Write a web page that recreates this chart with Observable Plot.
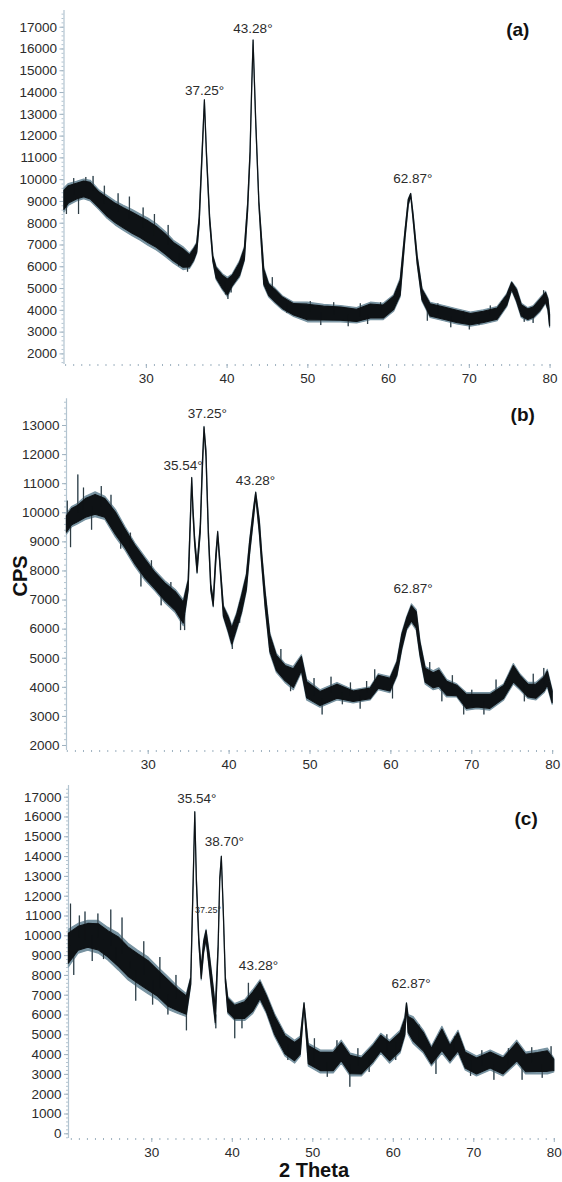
<!DOCTYPE html>
<html>
<head>
<meta charset="utf-8">
<script src="https://cdn.jsdelivr.net/npm/d3@7"></script>
<script src="https://cdn.jsdelivr.net/npm/@observablehq/plot@0.6"></script>
<style>
  body { margin: 0; background: #fff; }
  #wrap { position: relative; width: 562px; height: 1182px; overflow: hidden;
          font-family: "Liberation Sans", Arial, sans-serif; }
  .panel { position: absolute; left: 0; }
  .axlab { position: absolute; font-weight: bold; font-size: 20px; line-height: 1; color: #111; white-space: nowrap;
           transform: translate(-50%, -50%); }
</style>
</head>
<body>
<div id="wrap">
  <div class="panel" id="pa" style="top:0px"></div>
  <div class="panel" id="pb" style="top:392px"></div>
  <div class="panel" id="pc" style="top:782px"></div>
  <div class="axlab" style="left:20px; top:576px; transform: translate(-50%,-50%) rotate(-90deg);">CPS</div>
  <div class="axlab" style="left:314px; top:1170px;">2 Theta</div>
</div>
<script>
// ---------- Panel (a) ----------
const aTheta = [19.85,20.4,21.4,22.3,23.1,24.2,25.2,26.2,27.2,28.3,29.3,30.3,31.3,32.4,33.4,34.6,35.4,35.9,36.3,36.6,36.96,37.25,37.5,37.9,38.3,38.7,39.5,40.1,40.7,41.6,42.2,42.6,42.9,43.1,43.28,43.6,44.0,44.6,45.2,46.0,46.9,48.3,50.0,52.0,54.1,56.1,57.8,59.4,60.7,61.5,62.1,62.5,62.8,63.1,63.6,64.2,65.2,66.9,68.5,70.2,71.8,73.5,74.7,75.3,75.9,76.5,77.3,78.0,78.8,79.5,79.8,80.0];
const aLow   = [8500,8800,9000,9100,9000,8600,8200,7900,7650,7400,7200,6950,6750,6450,6150,5850,5900,6200,6600,7900,11000,13550,11100,8000,6200,5400,4900,4600,5050,5500,6250,8500,11000,14000,16300,12600,8800,5100,4600,4300,4000,3700,3450,3450,3450,3400,3550,3550,3950,4600,7300,8800,9250,8100,6100,4400,3650,3500,3350,3250,3350,3500,4150,4900,4350,3650,3500,3600,3900,4300,3950,3200];
const aHigh  = [9600,9800,9900,10000,9950,9500,9250,9000,8800,8600,8400,8200,7950,7600,7200,6900,6600,6850,7100,8300,11300,13650,11300,8300,6500,6000,5650,5500,5650,6250,6900,8900,11300,14200,16400,12800,9000,5950,5250,5000,4650,4350,4350,4250,4200,4100,4350,4300,4700,5450,7700,9100,9350,8400,6500,5000,4350,4200,4050,3900,4000,4150,4750,5300,5000,4300,4100,4200,4550,4850,4550,3850];
const aSpikeTheta = [20.1,21.0,21.6,22.5,23.4,24.8,26.5,27.9,29.6,31.0,32.7,34.0,35.1,39.8,40.1,40.5,45.6,47.4,50.3,51.6,53.2,55.0,56.5,57.4,59.0,61.0,64.8,66.1,67.7,69.3,70.0,71.2,72.6,74.0,76.8,77.9,79.2];
const aSpikeBase  = [9100,9300,9100,9700,9500,8900,8500,8200,7800,7400,7000,6600,6250,5300,5000,5300,4900,4300,3900,3900,3800,3800,3700,3800,3900,4500,4000,3850,3700,3600,3600,3650,3800,3900,3900,3800,4300];
const aSpikeTip   = [8400,10050,8400,10100,10150,9700,9350,9200,8700,8400,7900,6000,5750,4700,4500,4800,5500,3850,4400,3300,4350,3250,4300,3350,4350,4950,3500,4300,3200,3950,3100,3300,4200,4400,3450,3400,4900];
const aLabelTheta = [37.2,43.2,63.0];
const aLabelValue = [14100,16950,10050];
const aLabelText  = ["37.25°","43.28°","62.87°"];
const aYTicks = [2000,3000,4000,5000,6000,7000,8000,9000,10000,11000,12000,13000,14000,15000,16000,17000];

// ---------- Panel (b) ----------
const bTheta = [19.95,20.6,21.3,22.3,23.5,24.7,26.0,27.2,28.4,29.7,30.9,32.1,33.4,34.4,35.0,35.2,35.44,35.6,35.8,36.1,36.5,36.75,36.96,37.2,37.5,37.8,38.1,38.4,38.65,38.9,39.35,39.96,40.4,41.0,41.6,42.2,42.6,43.05,43.35,43.8,44.1,44.5,45.1,45.9,46.97,48.0,49.0,49.65,51.3,53.4,55.4,57.5,58.5,59.95,60.8,61.4,62.0,62.6,63.2,63.65,64.3,65.3,66.0,66.96,68.2,69.4,70.7,72.3,74.0,75.2,76.0,77.0,78.0,79.0,79.4,79.7,80.0];
const bLow   = [9250,9500,9600,9750,9850,9750,9150,8700,8150,7650,7300,6900,6550,6100,7300,9000,11100,9900,8900,7900,9300,11400,12850,11900,9150,7300,6750,8200,9200,8250,6400,5850,5400,5950,6500,7300,8550,9700,10550,9250,8150,6750,5150,4500,4150,3900,4500,3550,3300,3550,3450,3550,3900,3800,4350,5250,5950,6200,5950,5050,4100,3900,3950,3650,3650,3200,3250,3200,3550,4100,3900,3600,3550,3800,4000,3700,3400];
const bHigh  = [9950,10200,10300,10550,10700,10550,10100,9500,8950,8450,8000,7650,7350,7000,7700,9300,11200,10150,9150,8200,9600,11700,12950,12150,9400,7550,7000,8500,9350,8450,6800,6450,6100,6550,7200,7900,9050,10100,10700,9750,8600,7350,5850,5150,4800,4700,5100,4250,3900,4150,3900,4000,4450,4350,4900,5850,6400,6850,6650,5600,4700,4550,4650,4250,4100,3800,3800,3800,4100,4800,4450,4150,4150,4400,4600,4250,3900];
const bSpikeTheta = [20.0,20.4,21.3,22.0,23.0,24.2,25.4,26.6,27.8,29.1,30.4,31.6,32.8,34.0,34.5,40.4,41.3,46.4,47.6,50.5,51.5,52.6,54.0,55.0,56.2,57.0,58.0,60.2,64.8,66.3,67.6,69.0,70.0,71.5,73.0,76.5,77.6,78.9];
const bSpikeBase  = [9600,9500,10000,10100,10200,10200,9800,9300,8600,8100,7700,7300,7000,6600,6500,5800,6200,4600,4300,3700,3600,3800,3800,3700,3700,3800,4200,4100,4200,4000,3900,3500,3500,3500,3700,4100,3900,4100];
const bSpikeTip   = [10400,8800,11300,10850,9400,10900,10600,8750,9300,7450,8350,6800,7600,5950,5950,5300,6900,5300,3850,4300,3050,4350,3400,4150,3250,4200,4600,3600,4850,3500,4400,3050,3900,3050,4250,3500,4450,4650];
const bLabelTheta = [37.3,34.3,43.26,62.75];
const bLabelValue = [13400,11625,11110,7390];
const bLabelText  = ["37.25°","35.54°","43.28°","62.87°"];
const bYTicks = [2000,3000,4000,5000,6000,7000,8000,9000,10000,11000,12000,13000];

// ---------- Panel (c) ----------
const cTheta = [19.7,20.9,22.1,23.4,24.6,25.9,27.1,28.3,29.6,30.8,32.1,33.3,34.35,34.9,35.2,35.4,35.6,35.9,36.2,36.5,36.8,37.2,37.7,37.95,38.3,38.5,38.7,38.95,39.2,39.5,40.35,41.6,42.6,43.5,44.3,45.3,46.6,47.8,48.5,48.97,49.5,51.0,52.6,53.6,54.7,56.1,57.6,58.5,59.6,60.9,61.5,61.7,61.9,62.5,63.8,64.8,66.1,67.1,68.1,69.0,70.4,72.1,73.7,75.4,76.5,78.0,79.2,80.0];
const cLow   = [8400,9100,9250,9100,8750,8250,7750,7400,7050,6750,6250,6050,5900,7500,12600,16150,12600,9600,7750,9100,9750,8250,6400,5500,9300,12700,13900,11000,7600,6050,5700,5700,6050,6700,6050,4900,3900,3550,3900,6450,3400,3050,3050,3550,2900,2900,3550,4050,3550,4050,4900,6400,5000,4550,4050,3400,4050,3550,4050,3200,2900,3200,2900,3550,3000,3000,3000,3100];
const cHigh  = [10300,10600,10750,10750,10400,10100,9600,9250,8900,8400,7900,7400,7050,7900,12900,16250,12900,9900,8400,9750,10300,9100,7400,6400,9550,12900,14000,11200,7900,6900,6550,6750,7250,7750,7050,6050,5050,4700,4900,6600,4550,4200,4200,4700,4050,3900,4550,5050,4700,5200,5900,6600,6000,5900,5200,4400,5400,4550,5200,4200,3900,4200,3900,4700,4100,4200,4300,3800];
const cSpikeTheta = [19.9,20.3,21.0,21.7,22.6,23.3,24.0,24.9,25.6,26.3,27.3,28.0,29.0,30.1,31.0,32.0,33.0,34.3,37.95,40.3,41.2,42.0,45.8,46.9,50.2,51.8,53.0,54.6,55.6,57.0,59.2,60.3,63.2,65.3,67.6,69.6,71.0,72.5,74.3,76.0,77.2,78.5,79.6];
const cSpikeBase  = [9500,9000,9900,9800,10000,9900,9800,9500,9400,9100,8700,8200,8000,7700,7300,7000,6800,6400,6000,6000,6200,6500,5500,4500,3600,3600,4100,3500,3400,4000,4100,4600,4600,3900,4000,3700,3400,3500,3400,3500,3600,3500,3600];
const cSpikeTip   = [11600,8000,11000,11200,8700,11100,8800,11300,8600,10900,8300,6700,9700,6500,8900,6000,8000,5200,5300,4800,5300,7600,4600,3700,4800,2850,4700,2350,4300,3100,5000,3700,5500,3000,4900,2900,4200,2700,4300,2700,4350,2800,4400];
const cLabelTheta = [35.6,39.0,43.25,62.2];
const cLabelValue = [16920,14730,8500,7570];
const cLabelText  = ["35.54°","38.70°","43.28°","62.87°"];
const cSmallTheta = [37.0];
const cSmallValue = [11280];
const cSmallText  = ["37.25°"];
const cYTicks = [0,1000,2000,3000,4000,5000,6000,7000,8000,9000,10000,11000,12000,13000,14000,15000,16000,17000];

const xTicks = [30,40,50,60,70,80];
const FONT = '"Liberation Sans",Arial,sans-serif';
const INK = "#0e1215";
const HALO = "#7893a1";
const AXIS = "#b3c4d0";

function makePanel(cfg) {
  const data = cfg.theta.map((t, i) => ({t, lo: cfg.low[i], hi: cfg.high[i]}));
  const spikes = cfg.spikeTheta.map((t, i) => ({t, b: cfg.spikeBase[i], v: cfg.spikeTip[i]}));
  const labels = cfg.labelTheta.map((t, i) => ({t, v: cfg.labelValue[i], s: cfg.labelText[i]}));
  const small = (cfg.smallTheta || []).map((t, i) => ({t, v: cfg.smallValue[i], s: cfg.smallText[i]}));
  const [y0, y1] = cfg.yDomain;
  const minorY = d3.range(Math.ceil(y0 / 200) * 200, y1, 200);
  return Plot.plot({
    width: 562, height: cfg.height,
    marginLeft: cfg.ml, marginRight: cfg.mr, marginTop: cfg.mt, marginBottom: cfg.mb,
    x: {domain: cfg.xDomain, label: null},
    y: {domain: cfg.yDomain, label: null},
    style: {fontFamily: FONT, fontSize: "13.5px", color: "#2b2b2b", background: "transparent", overflow: "visible"},
    marks: [
      Plot.ruleX([cfg.xDomain[0]], {stroke: AXIS, strokeWidth: 1.2}),
      Plot.axisY({ticks: minorY, tickSize: 2, text: null, stroke: AXIS, label: null}),
      Plot.axisY({ticks: cfg.yTicks, tickSize: 4, tickPadding: 3, tickFormat: d => String(d),
                  fontSize: 13.5, stroke: "#9fb2c0", fill: "#2b2b2b", label: null}),
      Plot.axisX({ticks: d3.range(20, 80.5, 1), tickSize: 2, text: null, stroke: "#9fb2c0", label: null}),
      Plot.axisX({ticks: xTicks, tickSize: 4, tickPadding: 5, fontSize: 13.5,
                  stroke: "#9fb2c0", fill: "#2b2b2b", label: null}),
      // blue-grey fringe of the noisy trace
      Plot.areaY(data, {x: "t", y1: "lo", y2: "hi", fill: HALO, stroke: HALO, strokeWidth: 1.2}),
      Plot.ruleX(spikes, {x: "t", y1: "b", y2: "v", stroke: HALO, strokeWidth: 1.4}),
      // dark core of the trace
      Plot.areaY(data, {x: "t", y1: d => d.lo + 0.1 * (d.hi - d.lo), y2: d => d.hi - 0.1 * (d.hi - d.lo),
                        fill: INK, stroke: INK, strokeWidth: 1.1}),
      Plot.ruleX(spikes, {x: "t", y1: "b", y2: "v", stroke: INK, strokeWidth: 0.7}),
      Plot.text(labels, {x: "t", y: "v", text: "s", fontSize: 13.5, fill: "#2b2b2b"}),
      Plot.text(small, {x: "t", y: "v", text: "s", fontSize: 9, fill: "#2b2b2b"}),
      Plot.text([cfg.tag], {x: cfg.tagX, y: cfg.tagY, text: d => d, fontSize: 19, fontWeight: "bold", fill: "#111"})
    ]
  });
}

document.getElementById("pa").append(makePanel({
  theta: aTheta, low: aLow, high: aHigh,
  spikeTheta: aSpikeTheta, spikeBase: aSpikeBase, spikeTip: aSpikeTip,
  labelTheta: aLabelTheta, labelValue: aLabelValue, labelText: aLabelText,
  yTicks: aYTicks, tag: "(a)", tagX: 76.0, tagY: 16890,
  height: 392, ml: 63.5, mr: 10, mt: 10, mb: 28,
  xDomain: [19.8, 80.3], yDomain: [1513, 17767]
}));
document.getElementById("pb").append(makePanel({
  theta: bTheta, low: bLow, high: bHigh,
  spikeTheta: bSpikeTheta, spikeBase: bSpikeBase, spikeTip: bSpikeTip,
  labelTheta: bLabelTheta, labelValue: bLabelValue, labelText: bLabelText,
  yTicks: bYTicks, tag: "(b)", tagX: 76.3, tagY: 13380,
  height: 390, ml: 66, mr: 7.4, mt: 6.3, mb: 32,
  xDomain: [19.9, 80.3], yDomain: [1828, 13918]
}));
document.getElementById("pc").append(makePanel({
  theta: cTheta, low: cLow, high: cHigh,
  spikeTheta: cSpikeTheta, spikeBase: cSpikeBase, spikeTip: cSpikeTip,
  labelTheta: cLabelTheta, labelValue: cLabelValue, labelText: cLabelText,
  smallTheta: cSmallTheta, smallValue: cSmallValue, smallText: cSmallText,
  yTicks: cYTicks, tag: "(c)", tagX: 76.5, tagY: 15890,
  height: 400, ml: 68, mr: 5.8, mt: 3, mb: 44,
  xDomain: [19.65, 80.3], yDomain: [-237, 17590]
}));
</script>
</body>
</html>
